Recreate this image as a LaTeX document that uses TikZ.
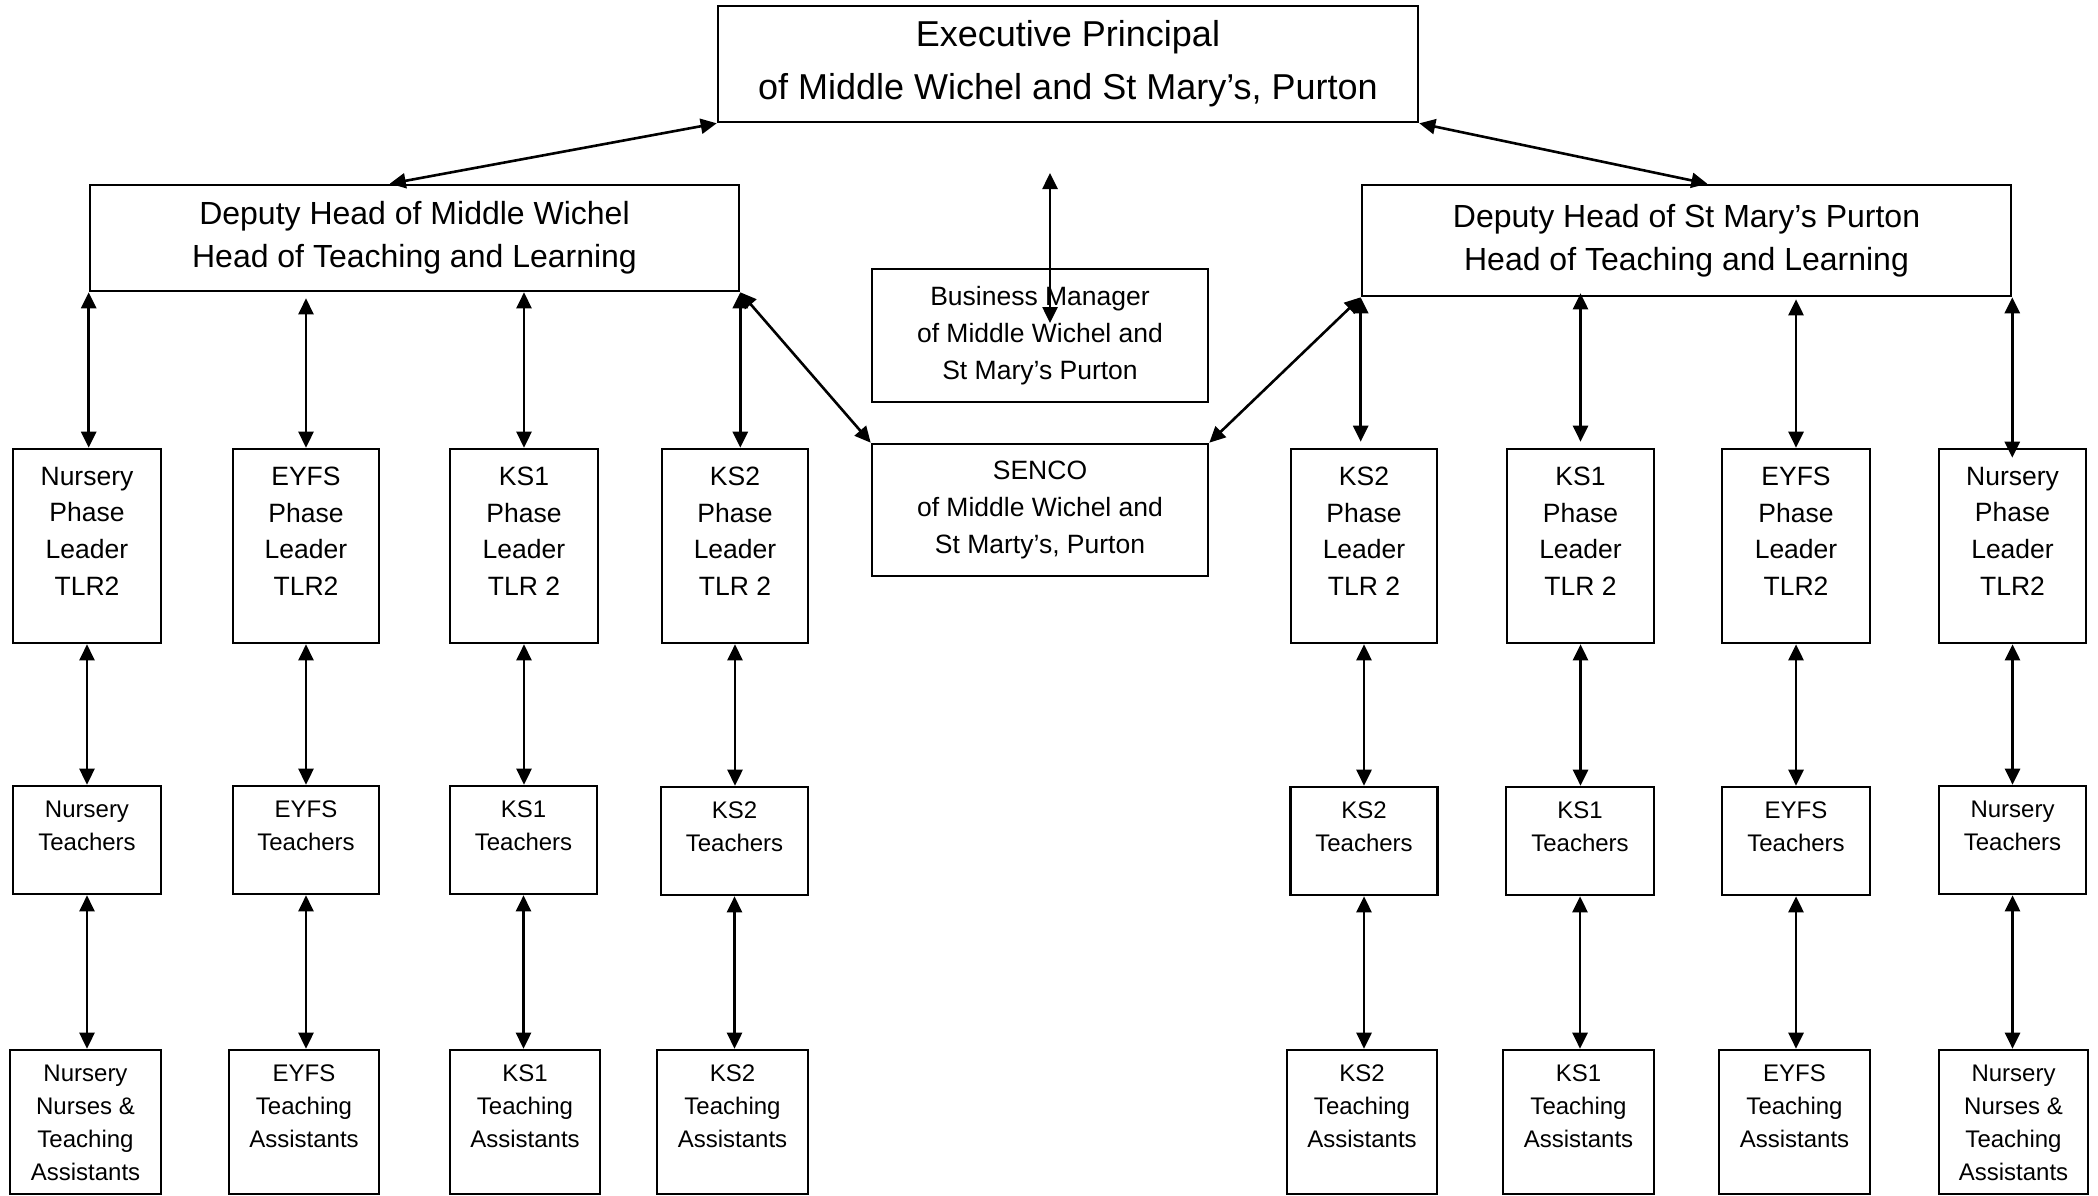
\documentclass[tikz,border=0pt]{standalone}
\usepackage{fontspec}
\setmainfont{Liberation Sans}
\usetikzlibrary{arrows.meta,calc}
\begin{document}
\begin{tikzpicture}[x=1pt,y=-1pt,
  box/.style={draw, line width=2.6pt, inner sep=0pt, align=center},
  sz/.style 2 args={minimum width=#1, minimum height=#2},
  arr/.style={line width=2.6pt, {Triangle[length=16pt,width=15pt]}-{Triangle[length=16pt,width=15pt]}},
  fexec/.style={font=\fontsize{36}{53}\selectfont},
  fdep/.style={font=\fontsize{32}{43}\selectfont},
  fmid/.style={font=\fontsize{26.5}{36.7}\selectfont},
  lp/.style={anchor=north, inner sep=0pt, align=center, font=\fontsize{26.5}{36.7}\selectfont, yshift=-19pt},
  lt/.style={anchor=north, inner sep=0pt, align=center, font=\fontsize{24}{33}\selectfont, yshift=-16pt},
]
\useasboundingbox (0,0) rectangle (2098,1195);

% top level
\node[box, fexec, sz={700pt}{116pt}] (exec) at (1068,64) {Executive Principal\\of Middle Wichel and St Mary’s, Purton};
\node[box, fdep, sz={649pt}{106pt}] (ldep) at (414.5,238) {Deputy Head of Middle Wichel\\Head of Teaching and Learning};
\node[box, fdep, sz={649pt}{111pt}] (rdep) at (1686.5,240.5) {Deputy Head of St Mary’s Purton\\Head of Teaching and Learning};
\node[box, fmid, sz={336pt}{133pt}] (bus) at (1040,335.5) {Business Manager\\of Middle Wichel and\\St Mary’s Purton};
\node[box, fmid, sz={336pt}{132pt}] (senco) at (1040,510) {SENCO\\of Middle Wichel and\\St Marty’s, Purton};

% phase leaders
\node[box, sz={148pt}{194pt}, label={[lp]north:Nursery\\Phase\\Leader\\TLR2}] (lpn) at (87,546) {};
\node[box, sz={146pt}{194pt}, label={[lp]north:EYFS\\Phase\\Leader\\TLR2}] (lpe) at (306,546) {};
\node[box, sz={148pt}{194pt}, label={[lp]north:KS1\\Phase\\Leader\\TLR 2}] (lp1) at (524,546) {};
\node[box, sz={146pt}{194pt}, label={[lp]north:KS2\\Phase\\Leader\\TLR 2}] (lp2) at (735,546) {};
\node[box, sz={146pt}{194pt}, label={[lp]north:KS2\\Phase\\Leader\\TLR 2}] (rp2) at (1364,546) {};
\node[box, sz={147pt}{194pt}, label={[lp]north:KS1\\Phase\\Leader\\TLR 2}] (rp1) at (1580.5,546) {};
\node[box, sz={148pt}{194pt}, label={[lp]north:EYFS\\Phase\\Leader\\TLR2}] (rpe) at (1796,546) {};
\node[box, sz={147pt}{194pt}, label={[lp]north:Nursery\\Phase\\Leader\\TLR2}] (rpn) at (2012.5,546) {};

% teachers
\node[box, sz={148pt}{108pt}, label={[lt]north:Nursery\\Teachers}] (ltn) at (87,840) {};
\node[box, sz={146pt}{108pt}, label={[lt]north:EYFS\\Teachers}] (lte) at (306,840) {};
\node[box, sz={147pt}{108pt}, label={[lt]north:KS1\\Teachers}] (lt1) at (523.5,840) {};
\node[box, sz={147pt}{108pt}, label={[lt]north:KS2\\Teachers}] (lt2) at (734.5,841) {};
\node[box, sz={147pt}{108pt}, label={[lt]north:KS2\\Teachers}] (rt2) at (1364,841) {};
\node[box, sz={148pt}{108pt}, label={[lt]north:KS1\\Teachers}] (rt1) at (1580,841) {};
\node[box, sz={148pt}{108pt}, label={[lt]north:EYFS\\Teachers}] (rte) at (1796,841) {};
\node[box, sz={147pt}{108pt}, label={[lt]north:Nursery\\Teachers}] (rtn) at (2012.5,840) {};

% teaching assistants
\node[box, sz={151pt}{144pt}, label={[lt]north:Nursery\\Nurses \&\\Teaching\\Assistants}] (lan) at (85.5,1122) {};
\node[box, sz={150pt}{144pt}, label={[lt]north:EYFS\\Teaching\\Assistants}] (lae) at (304,1122) {};
\node[box, sz={150pt}{144pt}, label={[lt]north:KS1\\Teaching\\Assistants}] (la1) at (525,1122) {};
\node[box, sz={151pt}{144pt}, label={[lt]north:KS2\\Teaching\\Assistants}] (la2) at (732.5,1122) {};
\node[box, sz={150pt}{144pt}, label={[lt]north:KS2\\Teaching\\Assistants}] (ra2) at (1362,1122) {};
\node[box, sz={151pt}{144pt}, label={[lt]north:KS1\\Teaching\\Assistants}] (ra1) at (1578.5,1122) {};
\node[box, sz={151pt}{144pt}, label={[lt]north:EYFS\\Teaching\\Assistants}] (rae) at (1794.5,1122) {};
\node[box, sz={149pt}{144pt}, label={[lt]north:Nursery\\Nurses \&\\Teaching\\Assistants}] (ran) at (2013.5,1122) {};

% connectors: top
\draw[arr] (exec.south west) -- ($(ldep.north west)!0.462!(ldep.north east)$);
\draw[arr] (exec.south east) -- ($(rdep.north west)!0.532!(rdep.north east)$);
\coordinate (bustop) at (1050,173);
\coordinate (busbot) at (1050,323);
\draw[arr] (bustop) -- (busbot);
\draw[arr] (ldep.south east) -- (senco.north west);
\draw[arr] (rdep.south west) -- (senco.north east);

% deputy to phase leaders
\draw[arr] (ldep.south west) -- (ldep.south west |- lpn.north);
\draw[arr] ([yshift=-6pt]lpe.north |- ldep.south) -- (lpe.north);
\draw[arr] (lp1.north |- ldep.south) -- (lp1.north);
\draw[arr] (ldep.south east) -- (ldep.south east |- lp2.north);
\draw[arr] (rdep.south west) -- ([yshift=6pt]rdep.south west |- rp2.north);
\draw[arr] ([yshift=4pt]rp1.north |- rdep.south) -- ([yshift=6pt]rp1.north);
\draw[arr] ([yshift=-2pt]rpe.north |- rdep.south) -- (rpe.north);
\draw[arr] (rdep.south east) -- ([yshift=-10pt]rdep.south east |- rpn.north);

% phase leaders to teachers
\foreach \a/\b in {lpn/ltn, lpe/lte, lp1/lt1, lp2/lt2, rp2/rt2, rp1/rt1, rpe/rte, rpn/rtn}
  \draw[arr] (\a.south) -- (\a.south |- \b.north);
% teachers to teaching assistants
\foreach \a/\b in {ltn/lan, lte/lae, lt1/la1, lt2/la2, rt2/ra2, rt1/ra1, rte/rae, rtn/ran}
  \draw[arr] (\a.south) -- (\a.south |- \b.north);
\end{tikzpicture}
\end{document}
